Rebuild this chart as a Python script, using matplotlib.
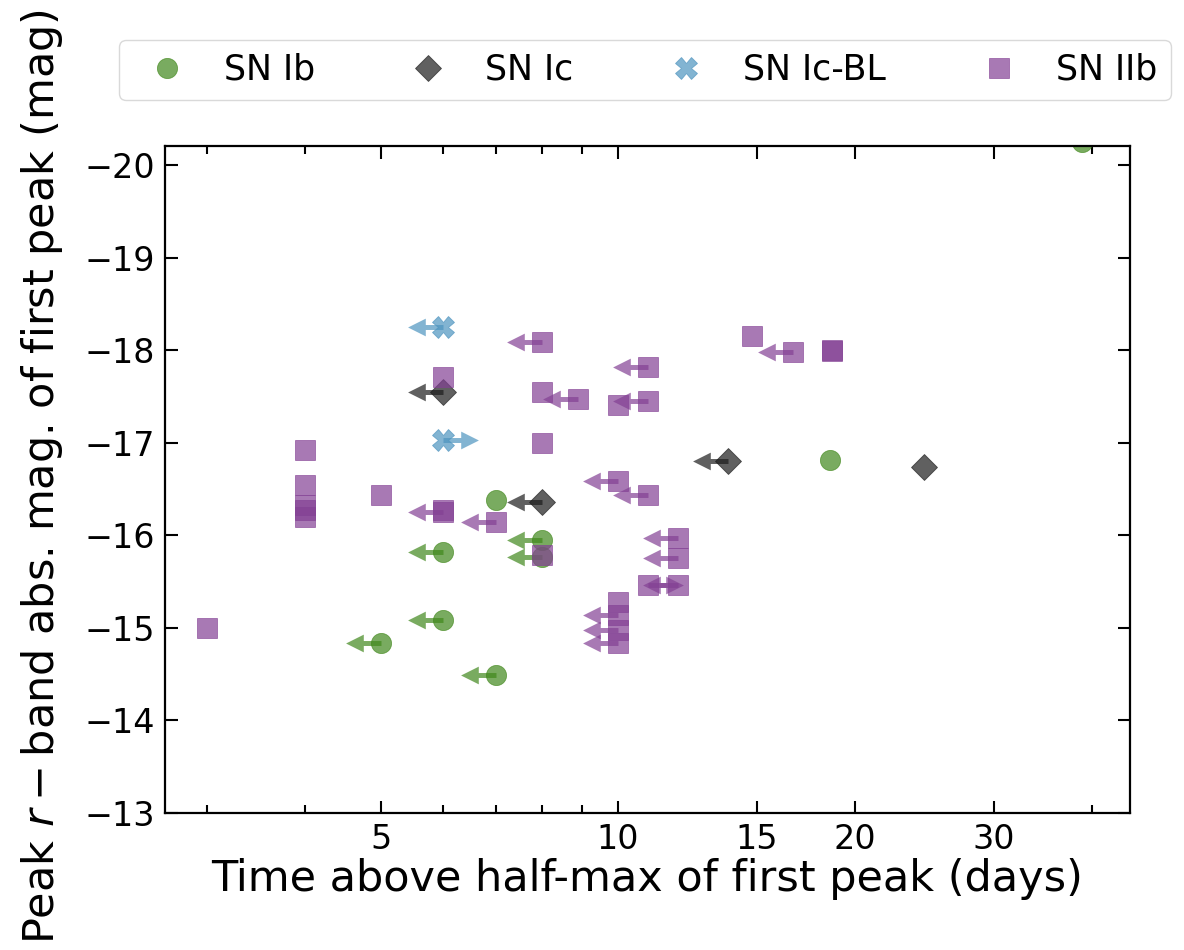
import numpy as np
import matplotlib
matplotlib.use("Agg")
import matplotlib.pyplot as plt
from matplotlib.path import Path

# ---------------- data ----------------
# limit flag: "up" = upper limit on time (arrow to the left),
#             "lo" = lower limit on time (arrow to the right), "" = measured
ib_time = [6, 6, 5, 7, 7, 8, 8, 18.6, 38.9]
ib_mag = [-15.82, -15.08, -14.84, -14.49, -16.38, -15.95, -15.77, -16.81, -20.25]
ib_lim = ["up", "up", "up", "up", "", "up", "up", "", ""]

ic_time = [6, 8, 13.8, 24.5]
ic_mag = [-17.55, -16.36, -16.80, -16.74]
ic_lim = ["up", "up", "up", ""]

icbl_time = [6, 6]
icbl_mag = [-18.25, -17.03]
icbl_lim = ["up", "lo"]

iib_time = [3.0, 4, 4, 4, 4, 4, 5, 6, 6, 6, 7, 8, 8, 8, 8, 8.9,
            10, 10, 10, 10, 10, 10, 10.9, 10.9, 10.9, 10.9,
            11.9, 11.9, 11.9, 14.8, 16.7, 18.7, 18.7]
iib_mag = [-15.0, -16.92, -16.54, -16.33, -16.27, -16.20, -16.44, -17.71,
           -16.25, -16.27, -16.14, -18.09, -17.55, -17.00, -15.79, -17.47,
           -17.41, -16.59, -15.28, -15.14, -14.98, -14.84,
           -17.82, -17.45, -16.44, -15.46,
           -15.46, -15.97, -15.75, -18.15, -17.98, -17.99, -18.00]
iib_lim = ["", "", "", "", "", "", "", "",
           "up", "", "up", "up", "", "", "", "up",
           "", "up", "", "up", "up", "up",
           "up", "up", "up", "lo",
           "up", "up", "up", "", "up", "", ""]

labels = ["SN Ib", "SN Ic", "SN Ic-BL", "SN IIb"]
x_major = [5, 10, 15, 20, 30]
x_minor = [3, 4, 6, 7, 8, 9, 40]
y_ticks = [-20, -19, -18, -17, -16, -15, -14, -13]

# ---------------- style ----------------
colors = ["#41881c", "#1c1c1c", "#4d94bf", "#834194"]
markers = ["o", "D", "X", "s"]
msizes = [14.5, 13.5, 15.5, 14.5]
ALPHA = 0.7

# whole arrow (shaft + head) as one marker, tail at the data point
_arrow = [(0, 0.07), (-0.5, 0.07), (-0.5, 0.25), (-1, 0),
          (-0.5, -0.25), (-0.5, -0.07), (0, -0.07), (0, 0.07)]
_codes = [Path.MOVETO] + [Path.LINETO] * 6 + [Path.CLOSEPOLY]
left_arrow = Path(_arrow, _codes)
right_arrow = Path([(-vx, vy) for vx, vy in _arrow], _codes)
ARROW_MS = 51

plt.rcParams["font.family"] = ["DejaVu Sans"]

fig = plt.figure(figsize=(11.84, 9.5), dpi=100)
ax = fig.add_axes([165 / 1184, 1 - 813 / 950, 965 / 1184, 667 / 950])
ax.set_xscale("log")

datasets = [(ib_time, ib_mag, ib_lim), (ic_time, ic_mag, ic_lim),
            (icbl_time, icbl_mag, icbl_lim), (iib_time, iib_mag, iib_lim)]

handles = []
for (t, m, lim), c, mk, ms in zip(datasets, colors, markers, msizes):
    t = np.asarray(t, float)
    m = np.asarray(m, float)
    lim = np.asarray(lim)
    up = lim == "up"
    lo = lim == "lo"
    if up.any():
        ax.plot(t[up], m[up], ls="none", marker=left_arrow, ms=ARROW_MS,
                color=c, mew=0, alpha=ALPHA)
    if lo.any():
        ax.plot(t[lo], m[lo], ls="none", marker=right_arrow, ms=ARROW_MS,
                color=c, mew=0, alpha=ALPHA)
    ln, = ax.plot(t, m, ls="none", marker=mk, ms=ms, color=c,
                  mec=c, mew=0.6, alpha=ALPHA)
    handles.append(ln)

ax.set_xlim(2.657, 44.7)
ax.set_ylim(-13, -20.205)

ax.set_xticks(x_major)
ax.set_xticklabels([str(v) for v in x_major])
ax.set_xticks(x_minor, minor=True)
ax.set_xticklabels([], minor=True)
ax.set_yticks(y_ticks)
ax.set_yticklabels(["\u2212%d" % abs(v) for v in y_ticks])

ax.tick_params(which="both", direction="in", top=True, right=True,
               labelsize=24, width=1.5)
ax.tick_params(which="major", length=9, pad=7)
ax.tick_params(which="minor", length=6)
for s in ax.spines.values():
    s.set_linewidth(1.6)

ax.set_xlabel("Time above half-max of first peak (days)", fontsize=31)
ax.set_ylabel("Peak $r-$band abs. mag. of first peak (mag)", fontsize=31)
ax.xaxis.set_label_coords(0.5, -0.068)
ax.yaxis.set_label_coords(-0.104, 0.505)

fig.legend(handles, labels, loc="center", ncol=4,
           bbox_to_anchor=(645 / 1184, 1 - 70 / 950), fontsize=25,
           columnspacing=2.25, handletextpad=0.64, handlelength=2.0,
           borderpad=0.38, edgecolor="0.85", framealpha=1.0)

fig.savefig("out.png", dpi=100)
